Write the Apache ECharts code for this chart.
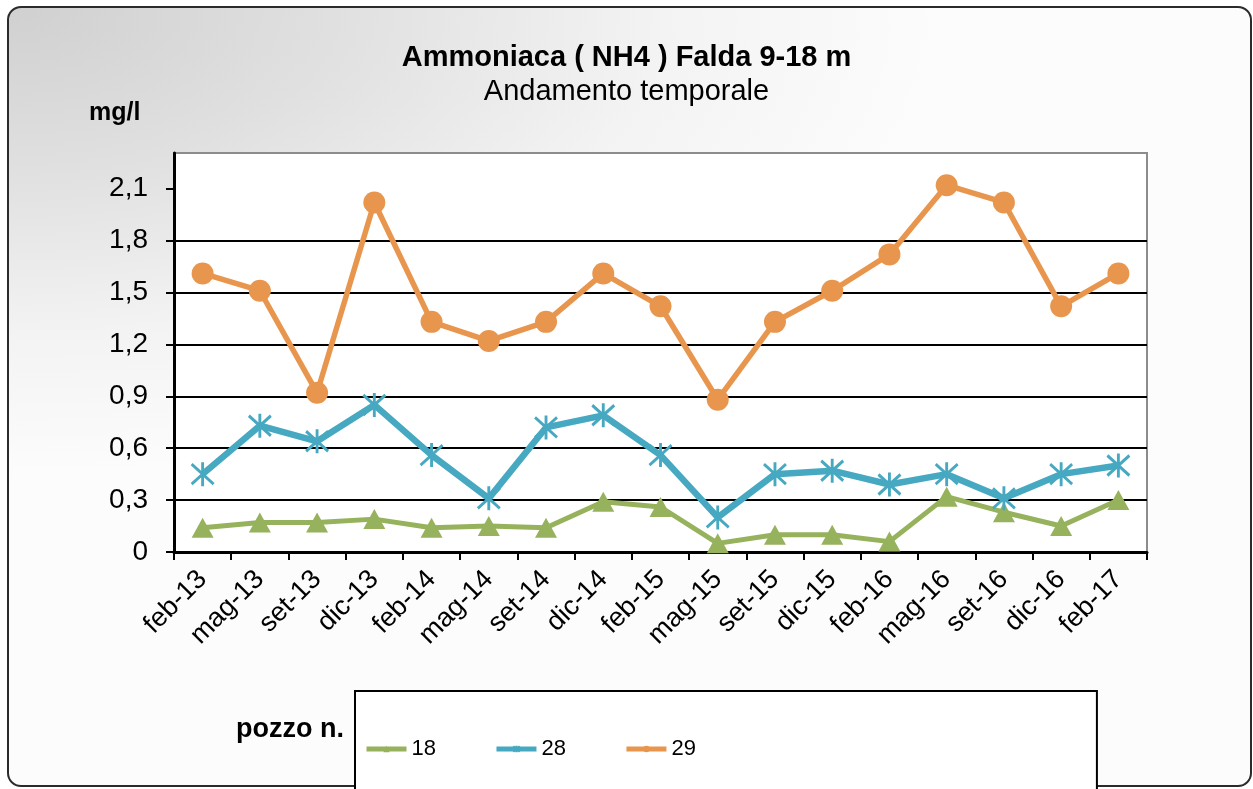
<!DOCTYPE html>
<html>
<head>
<meta charset="utf-8">
<script src="https://cdn.jsdelivr.net/npm/echarts@6/dist/echarts.min.js"></script>
<style>
  html, body { margin: 0; padding: 0; background: #ffffff; overflow: hidden; }
  #frame {
    position: absolute; left: 7px; top: 6px; width: 1241px; height: 777px;
    border: 2px solid #2b2b2b; border-radius: 14px;
    background: radial-gradient(ellipse 75% 60% at 0% 0%, #d0d0d0 0%, #e0e0e0 35%, #f3f3f3 70%, #fcfcfc 100%);
  }
  #chart { position: absolute; left: 0; top: 0; width: 1253px; height: 789px; }
</style>
</head>
<body>
<div id="frame"></div>
<div id="chart"></div>
<script>
// ---- data ----
const categories = ['feb-13','mag-13','set-13','dic-13','feb-14','mag-14','set-14','dic-14','feb-15','mag-15','set-15','dic-15','feb-16','mag-16','set-16','dic-16','feb-17'];
const pozzo18 = [0.14,0.17,0.17,0.19,0.14,0.15,0.14,0.29,0.26,0.05,0.10,0.10,0.06,0.32,0.23,0.15,0.30];
const pozzo28 = [0.45,0.73,0.64,0.85,0.56,0.31,0.72,0.79,0.56,0.20,0.45,0.47,0.39,0.45,0.31,0.45,0.50];
const pozzo29 = [1.61,1.51,0.92,2.02,1.33,1.22,1.33,1.61,1.42,0.88,1.33,1.51,1.72,2.12,2.02,1.42,1.61];
const yTicks = [0,0.3,0.6,0.9,1.2,1.5,1.8,2.1];
const seriesNames = ['18','28','29'];

const cGreen = '#97b25c', cBlue = '#46a9c1', cOrange = '#e8964e';
const font = '"Liberation Sans", Arial, sans-serif';

const chart = echarts.init(document.getElementById('chart'), null, {renderer: 'canvas'});
chart.setOption({
  backgroundColor: 'transparent',
  animation: false,
  title: [
    { text: 'Ammoniaca ( NH4 ) Falda 9-18 m', left: 'center', top: 38,
      textStyle: { fontFamily: font, fontSize: 29, fontWeight: 'bold', color: '#000', lineHeight: 30 } },
    { text: 'Andamento temporale', left: 'center', top: 72,
      textStyle: { fontFamily: font, fontSize: 29, fontWeight: 'normal', color: '#000', lineHeight: 30 } },
    { text: 'mg/l', left: 84, top: 94,
      textStyle: { fontFamily: font, fontSize: 25, fontWeight: 'bold', color: '#000', lineHeight: 28 } },
    { text: 'pozzo n.', left: 231, top: 710,
      textStyle: { fontFamily: font, fontSize: 27, fontWeight: 'bold', color: '#000', lineHeight: 30 } }
  ],
  legend: {
    data: seriesNames,
    left: 355, top: 691,
    orient: 'horizontal',
    itemWidth: 40, itemHeight: 8, itemGap: 58,
    padding: [47, 401, 70, 9],
    backgroundColor: '#ffffff',
    borderColor: '#000', borderWidth: 2, borderRadius: 0,
    lineStyle: { width: 5 },
    textStyle: { fontFamily: font, fontSize: 22, color: '#000' }
  },
  grid: {
    left: 174, right: 106, top: 153, bottom: 237,
    show: true, backgroundColor: '#ffffff', borderColor: '#8c8c8c', borderWidth: 2
  },
  xAxis: {
    type: 'category', data: categories, boundaryGap: true,
    axisLine: { show: true, lineStyle: { color: '#000', width: 3 } },
    axisTick: { show: true, length: 8, inside: false, lineStyle: { color: '#000', width: 2 } },
    axisLabel: { rotate: 45, fontFamily: font, fontSize: 27, color: '#000', margin: 23, interval: 0 },
    splitLine: { show: false }
  },
  yAxis: {
    type: 'value', min: 0, max: 2.306, interval: 0.3,
    axisLine: { show: true, lineStyle: { color: '#000', width: 3 } },
    axisTick: { show: true, length: 8, inside: false, customValues: yTicks, lineStyle: { color: '#000', width: 2 } },
    axisLabel: { customValues: yTicks, fontFamily: font, fontSize: 28, color: '#000', margin: 26,
      formatter: v => (Math.abs(v) < 1e-9 ? '0' : v.toFixed(1).replace('.', ',')) },
    splitLine: { show: true, showMaxLine: false, lineStyle: { color: '#000', width: 2 } }
  },
  series: [
    { name: '18', type: 'line', data: pozzo18,
      symbol: 'triangle', symbolSize: [22, 20],
      lineStyle: { color: cGreen, width: 5 },
      itemStyle: { color: cGreen } },
    { name: '28', type: 'line', data: pozzo28,
      symbol: 'path://M0,0L20,20M20,0L0,20M10,-2L10,22', symbolSize: [22, 24],
      lineStyle: { color: cBlue, width: 6.5 },
      itemStyle: { color: cBlue, borderColor: cBlue, borderWidth: 3 } },
    { name: '29', type: 'line', data: pozzo29,
      symbol: 'circle', symbolSize: 22,
      lineStyle: { color: cOrange, width: 5.5 },
      itemStyle: { color: cOrange } }
  ]
});
</script>
</body>
</html>
